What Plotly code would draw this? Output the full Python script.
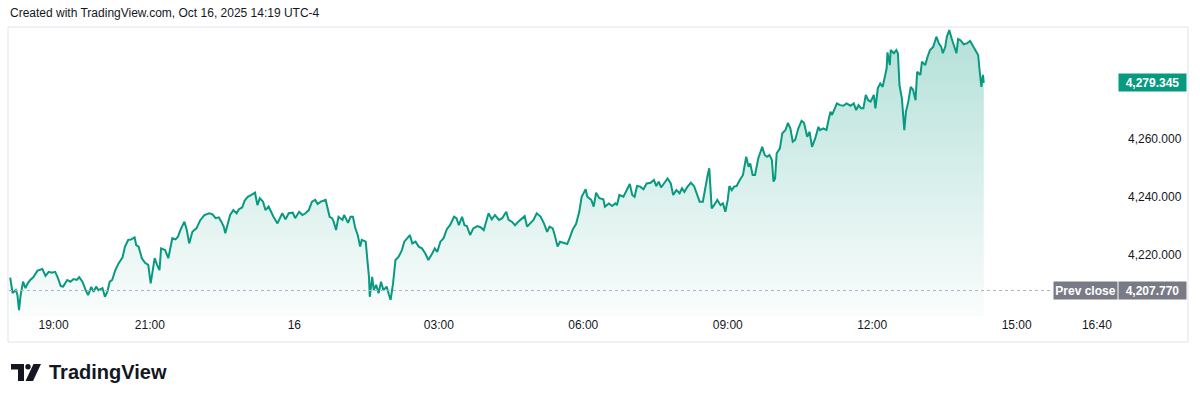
import pandas as pd
import plotly.graph_objects as go

# ---------------- data ----------------
session_start = "2025-10-15 18:00"

# minutes elapsed since session start (18:00 Oct 15)
minutes = [
    6, 9, 13, 15, 17, 19, 22, 25, 28, 31, 35, 40, 46, 50, 54, 58, 62, 65, 69, 72,
    77, 81, 85, 89, 92, 96, 100, 103, 107, 110, 113, 116, 121, 124, 127, 130, 133, 137, 141, 146,
    149, 153, 157, 161, 163, 166, 170, 174, 178, 181, 183, 186, 189, 192, 194, 199, 203, 208, 212, 215,
    218, 223, 226, 229, 233, 238, 243, 248, 254,
    258, 262, 266, 269, 272, 274, 277, 280, 284, 288, 291, 295, 298, 302, 306, 311, 314, 317, 321, 324,
    328, 331, 334, 339, 342, 345, 349, 353, 358, 361, 366, 370, 374, 378, 382, 386, 389, 393, 399, 401,
    404, 407, 409, 412, 415, 420, 422, 427, 430, 433, 436, 439, 442, 444, 449, 451, 453, 454, 457, 459,
    462, 465, 468, 471, 475, 478, 480, 483, 486, 490, 494, 497, 501,
    504, 507, 511, 515, 519, 523, 527, 532, 535, 538, 542, 546, 550, 554, 559, 562, 565, 569, 572, 575,
    579, 583, 588, 592, 596, 599, 602, 606, 610, 615, 619, 624, 627, 631, 635, 639, 644, 647, 650, 654,
    658, 662, 667, 671, 675, 678, 682, 685, 688, 691, 696, 700, 703, 707, 711, 715, 718, 723, 725, 730,
    733, 736, 740, 745, 747, 752, 756, 760,
    762, 765, 770, 774, 778, 781, 784, 787, 791, 795, 799, 804, 808, 811, 814, 817, 821, 825, 829, 832,
    836, 840, 843, 846, 850, 854, 858, 861, 865, 869, 872, 875, 877, 880, 883, 887, 891, 894, 897, 900,
    902, 905, 908, 911, 915, 919, 923, 926, 928, 931, 934, 938, 943, 946, 949, 952, 955, 957, 959, 961,
    965, 968, 972, 975, 978, 981, 984, 988, 992, 995, 999, 1002, 1005, 1009, 1013,
    1015, 1019, 1023, 1026, 1028, 1030, 1033, 1036, 1040, 1044, 1048, 1053, 1057, 1060, 1063, 1066, 1069, 1072, 1075, 1078,
    1082, 1084, 1087, 1090, 1093, 1096, 1098, 1099, 1102, 1103, 1107, 1110, 1112, 1114, 1117, 1120, 1122, 1125, 1128, 1131,
    1134, 1136, 1140, 1142, 1146, 1149, 1152, 1156, 1160, 1163, 1166, 1168, 1171, 1173, 1176, 1179, 1182, 1185, 1187, 1190,
    1194, 1198, 1202, 1205, 1208, 1212, 1214, 1216, 1218, 1219,
]

price = [
    4212.2, 4206.9, 4207.9, 4206.2, 4201.0, 4206.2, 4210.8, 4208.6, 4210.3, 4211.4,
    4212.4, 4214.6, 4215.2, 4212.8, 4214.2, 4213.9, 4214.2, 4212.4, 4209.3, 4209.1,
    4211.4, 4210.8, 4211.7, 4211.4, 4212.4, 4210.8, 4207.9, 4206.2, 4209.0, 4207.3,
    4209.1, 4207.9, 4208.6, 4205.6, 4207.3, 4210.8, 4211.4, 4214.8, 4217.1, 4219.2,
    4222.9, 4225.2, 4225.4, 4226.1, 4223.4, 4222.9, 4218.9, 4217.3, 4216.6, 4210.2,
    4213.7, 4218.9, 4216.6, 4214.8, 4222.3, 4221.7, 4218.9, 4225.8, 4225.4, 4226.3,
    4228.6, 4231.5, 4228.6, 4224.0, 4228.0, 4229.2, 4232.1, 4233.8, 4234.4,
    4234.0, 4232.7, 4233.0, 4231.5, 4229.8, 4227.5, 4230.3, 4233.8, 4235.5, 4234.4,
    4235.8, 4236.4, 4238.7, 4240.1, 4240.7, 4241.5, 4237.2, 4239.6, 4238.4, 4235.5,
    4236.7, 4234.9, 4233.2, 4230.9, 4232.7, 4234.4, 4232.3, 4234.4, 4234.6, 4232.7,
    4234.9, 4233.8, 4234.4, 4235.5, 4238.4, 4239.0, 4237.6, 4238.4, 4239.0, 4236.7,
    4233.2, 4232.7, 4231.5, 4228.6, 4233.2, 4232.1, 4233.8, 4231.1, 4233.2, 4233.2,
    4229.2, 4226.9, 4222.9, 4225.2, 4224.6, 4218.3, 4212.5, 4205.6, 4212.5, 4207.9,
    4209.7, 4206.8, 4210.8, 4207.9, 4209.1, 4206.2, 4204.5, 4210.2, 4218.3, 4219.4,
    4221.7, 4224.6, 4225.8,
    4226.9, 4224.0, 4224.6, 4222.9, 4222.3, 4220.6, 4218.3, 4220.6, 4222.3, 4221.1,
    4224.6, 4225.8, 4228.9, 4230.3, 4233.2, 4232.7, 4230.3, 4233.2, 4230.3, 4230.0,
    4226.9, 4229.2, 4230.0, 4229.6, 4228.6, 4231.5, 4234.4, 4232.3, 4233.8, 4232.1,
    4232.7, 4234.9, 4232.1, 4231.5, 4230.3, 4231.5, 4232.7, 4233.4, 4229.8, 4230.9,
    4232.1, 4234.4, 4233.2, 4230.9, 4228.0, 4229.8, 4229.2, 4226.3, 4222.9, 4224.6,
    4224.0, 4223.8, 4225.8, 4228.9, 4230.7, 4234.9, 4240.1, 4242.7, 4240.1, 4239.0,
    4236.7, 4241.5, 4239.6, 4239.2, 4236.7, 4237.8, 4236.9, 4237.8,
    4237.2, 4240.7, 4240.1, 4242.4, 4244.5, 4240.7, 4240.1, 4243.8, 4243.6, 4242.7,
    4244.7, 4244.9, 4245.9, 4243.8, 4245.3, 4243.3, 4244.7, 4246.4, 4244.7, 4240.7,
    4242.4, 4241.3, 4243.0, 4241.8, 4243.6, 4244.9, 4243.8, 4241.3, 4238.4, 4238.4,
    4243.6, 4247.6, 4249.9, 4236.1, 4237.2, 4239.0, 4237.2, 4237.8, 4234.9, 4239.0,
    4243.8, 4242.4, 4243.6, 4243.8, 4245.9, 4247.6, 4253.9, 4250.4, 4251.6, 4247.6,
    4247.6, 4253.3, 4257.3, 4254.5, 4253.9, 4254.5, 4252.8, 4245.3, 4246.4, 4255.1,
    4256.8, 4262.0, 4263.1, 4265.6, 4263.7, 4259.1, 4259.7, 4263.7, 4266.3, 4265.6,
    4260.8, 4262.5, 4257.3, 4260.2, 4264.2,
    4263.1, 4263.7, 4263.1, 4267.1, 4269.4, 4268.3, 4270.3, 4272.3, 4271.7, 4271.5,
    4272.3, 4271.5, 4272.3, 4270.0, 4271.7, 4270.6, 4270.6, 4275.2, 4273.4, 4272.9,
    4275.2, 4270.6, 4277.5, 4279.2, 4278.0, 4282.1, 4284.4, 4289.9, 4285.5, 4290.7,
    4289.6, 4290.7, 4289.6, 4278.6, 4274.0, 4263.1, 4269.4, 4272.9, 4278.0, 4276.9,
    4273.4, 4283.2, 4282.1, 4286.7, 4285.5, 4288.4, 4290.7, 4291.8, 4295.3, 4293.0,
    4291.8, 4289.6, 4291.8, 4295.3, 4297.6, 4294.7, 4291.8, 4289.6, 4294.5, 4294.1,
    4292.7, 4293.0, 4293.8, 4292.4, 4291.3, 4289.0, 4283.2, 4278.0, 4282.1, 4279.345,
]

last_price = 4279.345
prev_close = 4207.770

y_tick_values = [4220, 4240, 4260]
x_tick_times = ["2025-10-15 19:00", "2025-10-15 21:00", "2025-10-16 00:00",
                "2025-10-16 03:00", "2025-10-16 06:00", "2025-10-16 09:00",
                "2025-10-16 12:00", "2025-10-16 15:00", "2025-10-16 16:40"]
x_tick_labels = ["19:00", "21:00", "16", "03:00", "06:00", "09:00", "12:00", "15:00", "16:40"]
x_window = ["2025-10-15 18:04:30", "2025-10-16 17:05"]
y_window = [4198.97, 4298.3]

header_text = "Created with TradingView.com, Oct 16, 2025 14:19 UTC-4"
brand_text = "TradingView"

# ---------------- figure ----------------
times = pd.Timestamp(session_start) + pd.to_timedelta(minutes, unit="min")

GREEN = "#089981"
TEXT = "#131722"
FONT = "Liberation Sans"

W, H = 1200, 401
ML, MR, MT, MB = 9, 83, 28, 85
PW, PH = W - ML - MR, H - MT - MB


def px(x):
    return (x - ML) / PW


def py(y):
    return (H - MB - y) / PH


fig = go.Figure()
fig.add_trace(go.Scatter(
    x=times, y=price, mode="lines",
    line=dict(color=GREEN, width=2),
    fill="tozeroy",
    fillgradient=dict(type="vertical", start=y_window[0], stop=4296,
                      colorscale=[[0, "rgba(8,153,129,0.02)"], [1, "rgba(8,153,129,0.30)"]]),
    hoverinfo="skip", showlegend=False,
))

shapes = [
    # chart frame
    dict(type="rect", xref="paper", yref="paper", x0=px(8), x1=px(1188), y0=py(342), y1=py(27),
         line=dict(color="#e0e3eb", width=1), layer="below"),
    # previous close dotted line
    dict(type="line", xref="paper", yref="y", x0=0, x1=px(1051), y0=prev_close, y1=prev_close,
         line=dict(color="#b2b5be", width=1, dash="dot")),
    # logo pieces
    dict(type="path", xref="paper", yref="paper",
         path=f"M {px(11)},{py(364)} L {px(24)},{py(364)} L {px(24)},{py(381)} L {px(18)},{py(381)} "
              f"L {px(18)},{py(369.5)} L {px(11)},{py(369.5)} Z",
         fillcolor=TEXT, line=dict(width=0)),
    dict(type="circle", xref="paper", yref="paper", x0=px(25.3), x1=px(30.7), y0=py(369.4), y1=py(364),
         fillcolor=TEXT, line=dict(width=0)),
    dict(type="path", xref="paper", yref="paper",
         path=f"M {px(33.5)},{py(364)} L {px(41)},{py(364)} L {px(33)},{py(381)} L {px(25.5)},{py(381)} Z",
         fillcolor=TEXT, line=dict(width=0)),
]

annotations = [
    dict(text=header_text, xref="paper", yref="paper", x=px(8), y=py(12.5),
         xanchor="left", yanchor="middle", showarrow=False,
         font=dict(family=FONT, size=12, color=TEXT)),
    dict(text=f"{last_price:,.3f}", xref="paper", yref="y", x=px(1118), y=last_price,
         xanchor="left", yanchor="middle", showarrow=False, bgcolor=GREEN,
         width=67, height=17, borderpad=0, align="center",
         font=dict(family=FONT, size=12, color="white", weight=700)),
    dict(text="Prev close", xref="paper", yref="y", x=px(1053), y=prev_close,
         xanchor="left", yanchor="middle", showarrow=False, bgcolor="#787b86",
         width=63, height=17, borderpad=0, align="center",
         font=dict(family=FONT, size=12, color="white", weight=700)),
    dict(text=f"{prev_close:,.3f}", xref="paper", yref="y", x=px(1118), y=prev_close,
         xanchor="left", yanchor="middle", showarrow=False, bgcolor="#787b86",
         width=67, height=17, borderpad=0, align="center",
         font=dict(family=FONT, size=12, color="white", weight=700)),
    dict(text=brand_text, xref="paper", yref="paper", x=px(47), y=py(372),
         xanchor="left", yanchor="middle", showarrow=False,
         font=dict(family=FONT, size=20, color=TEXT, weight=700)),
]

fig.update_layout(
    width=W, height=H, autosize=False,
    margin=dict(l=ML, r=MR, t=MT, b=MB, pad=0),
    paper_bgcolor="white", plot_bgcolor="white",
    font=dict(family=FONT, size=12, color=TEXT),
    shapes=shapes, annotations=annotations,
    xaxis=dict(type="date", range=x_window, tickvals=x_tick_times, ticktext=x_tick_labels,
               showgrid=False, zeroline=False, showline=False, ticks="",
               tickfont=dict(family=FONT, size=12, color=TEXT), fixedrange=True),
    yaxis=dict(side="right", range=y_window, tickvals=y_tick_values, tickformat=",.3f",
               showgrid=False, zeroline=False, showline=False, ticks="",
               ticklabelstandoff=10,
               tickfont=dict(family=FONT, size=12, color=TEXT), fixedrange=True),
)

fig.write_html("out.html", config={"displayModeBar": False})
